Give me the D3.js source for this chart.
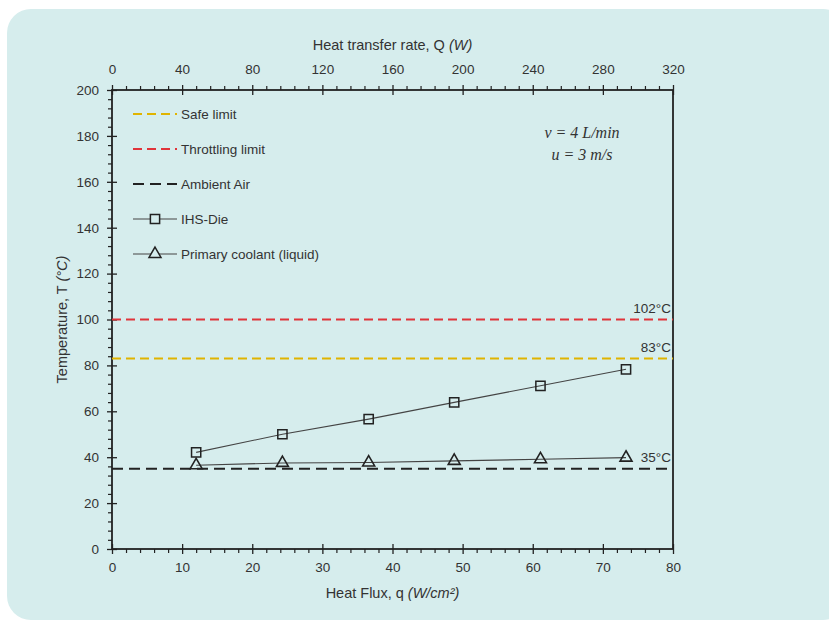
<!DOCTYPE html>
<html>
<head>
<meta charset="utf-8">
<script src="https://cdn.jsdelivr.net/npm/d3@7"></script>
<style>
  body { margin: 0; background: #fff; }
</style>
</head>
<body>
<div id="chart"></div>
<script>
// heat flux (W/cm2) for each test point
const flux = [12.0, 24.3, 36.6, 48.8, 61.1, 73.3];
const dieTemp = [42.1, 50.0, 56.6, 63.9, 71.1, 78.3];
const coolantTemp = [36.5, 37.5, 37.7, 38.4, 39.1, 39.8];

// horizontal limit lines
const limitNames = ["Safe limit", "Throttling limit", "Ambient Air"];
const limitValues = [83, 100, 35];
const limitLabels = ["83°C", "102°C", "35°C"];
const limitColors = ["#e0b400", "#e0343a", "#222222"];

const xTicks = [0, 10, 20, 30, 40, 50, 60, 70, 80];
const qTicks = [0, 40, 80, 120, 160, 200, 240, 280, 320];
const yTicks = [0, 20, 40, 60, 80, 100, 120, 140, 160, 180, 200];

const width = 829, height = 623,
  margin = ({top: 90, right: 156, bottom: 74, left: 112});

const sans = "Liberation Sans, Arial, sans-serif";

const svg = d3.select("#chart").append("svg")
  .attr("width", width).attr("height", height)
  .attr("font-family", sans);

// panel background
svg.append("rect")
  .attr("x", 7).attr("y", 9)
  .attr("width", 840).attr("height", 611)
  .attr("rx", 24)
  .attr("fill", "#d6eded");

const x = d3.scaleLinear().domain([0, 80]).range([margin.left, width - margin.right]);
const xq = d3.scaleLinear().domain([0, 320]).range([margin.left, width - margin.right]);
const y = d3.scaleLinear().domain([0, 200]).range([height - margin.bottom, margin.top]);

const x0 = margin.left, x1 = width - margin.right,
  y0 = height - margin.bottom, y1 = margin.top;

// minor ticks first (outward), then majors that cross the axis line
const minor = (axis, vals) => g => g.call(axis.tickValues(vals).tickFormat("").tickSize(4))
  .call(g => g.select(".domain").remove())
  .call(g => g.selectAll(".tick line").attr("stroke", "#222").attr("stroke-width", 1.2));

svg.append("g").attr("transform", `translate(0,${y0})`)
  .call(minor(d3.axisBottom(x), d3.range(0, 81, 2).filter(v => v % 10)));
svg.append("g").attr("transform", `translate(0,${y1})`)
  .call(minor(d3.axisTop(xq), d3.range(0, 321, 8).filter(v => v % 40)));
svg.append("g").attr("transform", `translate(${x0},0)`)
  .call(minor(d3.axisLeft(y), d3.range(0, 201, 4).filter(v => v % 20)));

const styleMajor = (g, attr) => {
  g.select(".domain").remove();
  g.selectAll(".tick line").attr("stroke", "#222").attr("stroke-width", 1.3)
    .attr(attr + "1", -5).attr(attr + "2", 5);
  g.selectAll(".tick text").attr("font-size", 13.5).attr("font-family", sans).attr("fill", "#333");
};

svg.append("g").attr("transform", `translate(0,${y0})`)
  .call(d3.axisBottom(x).tickValues(xTicks).tickSize(5).tickPadding(8))
  .call(g => styleMajor(g, "y"));
svg.append("g").attr("transform", `translate(0,${y1})`)
  .call(d3.axisTop(xq).tickValues(qTicks).tickSize(5).tickPadding(11))
  .call(g => styleMajor(g, "y"));
svg.append("g").attr("transform", `translate(${x0},0)`)
  .call(d3.axisLeft(y).tickValues(yTicks).tickSize(5).tickPadding(8))
  .call(g => styleMajor(g, "x"));

// frame
svg.append("rect")
  .attr("x", x0).attr("y", y1)
  .attr("width", x1 - x0).attr("height", y0 - y1)
  .attr("fill", "none").attr("stroke", "#222").attr("stroke-width", 1.8);

// limit lines
limitValues.forEach((v, i) => {
  svg.append("line")
    .attr("x1", x0).attr("x2", x1)
    .attr("y1", y(v)).attr("y2", y(v))
    .attr("stroke", limitColors[i]).attr("stroke-width", 2)
    .attr("stroke-dasharray", i == 2 ? "11,6" : "9,5");
  svg.append("text")
    .attr("x", x1 - 2).attr("y", y(v) - 7)
    .attr("text-anchor", "end").attr("font-size", 13.5).attr("fill", "#333")
    .text(limitLabels[i]);
});

// series
const line = d3.line().x((d, i) => x(flux[i])).y(d => y(d));

svg.append("path").datum(dieTemp)
  .attr("d", line).attr("fill", "none").attr("stroke", "#444").attr("stroke-width", 1.1);
svg.append("path").datum(coolantTemp)
  .attr("d", line).attr("fill", "none").attr("stroke", "#444").attr("stroke-width", 1.1);

const square = d3.symbol().type(d3.symbolSquare).size(85);
const triangle = d3.symbol().type(d3.symbolTriangle).size(62);

svg.selectAll(".sq").data(dieTemp).join("path")
  .attr("class", "sq")
  .attr("transform", (d, i) => `translate(${x(flux[i])},${y(d)})`)
  .attr("d", square).attr("fill", "none").attr("stroke", "#222").attr("stroke-width", 1.5);

svg.selectAll(".tri").data(coolantTemp).join("path")
  .attr("class", "tri")
  .attr("transform", (d, i) => `translate(${x(flux[i])},${y(d)})`)
  .attr("d", triangle).attr("fill", "none").attr("stroke", "#222").attr("stroke-width", 1.6);

// legend
const legendNames = limitNames.concat(["IHS-Die", "Primary coolant (liquid)"]);
const legend = svg.append("g");
legendNames.forEach((name, i) => {
  const ly = 114 + i * 35;
  const row = legend.append("g").attr("transform", `translate(133,${ly})`);
  if (i < 3) {
    row.append("line").attr("x1", 0).attr("x2", 44)
      .attr("stroke", limitColors[i]).attr("stroke-width", 2)
      .attr("stroke-dasharray", i == 2 ? "11,6" : "9,5");
  } else {
    row.append("line").attr("x1", 0).attr("x2", 44)
      .attr("stroke", "#444").attr("stroke-width", 1.1);
    row.append("path").attr("transform", "translate(22,0)")
      .attr("d", i == 3 ? square : triangle)
      .attr("fill", "#d6eded").attr("stroke", "#222").attr("stroke-width", 1.5);
  }
  row.append("text").attr("x", 48).attr("y", 5).attr("font-size", 13.5).attr("fill", "#333").text(name);
});

// flow conditions
const serif = "Liberation Serif, DejaVu Serif, serif";
const eq = svg.append("g").attr("font-family", serif).attr("font-size", 16)
  .attr("font-style", "italic").attr("fill", "#333").attr("text-anchor", "middle");
eq.append("text").attr("x", 582).attr("y", 138).text("v =  4 L/min");
eq.append("text").attr("x", 582).attr("y", 160).text("u = 3 m/s");

// axis titles
const bt = svg.append("text").attr("x", (x0 + x1) / 2).attr("y", 598)
  .attr("text-anchor", "middle").attr("font-size", 14.5).attr("fill", "#333");
bt.append("tspan").text("Heat Flux, q ");
bt.append("tspan").attr("font-style", "italic").text("(W/cm²)");

const tt = svg.append("text").attr("x", (x0 + x1) / 2).attr("y", 50)
  .attr("text-anchor", "middle").attr("font-size", 14.5).attr("fill", "#333");
tt.append("tspan").text("Heat transfer rate, Q ");
tt.append("tspan").attr("font-style", "italic").text("(W)");

const yt = svg.append("text")
  .attr("transform", `translate(67,${(y0 + y1) / 2}) rotate(-90)`)
  .attr("text-anchor", "middle").attr("font-size", 14.5).attr("fill", "#333");
yt.append("tspan").text("Temperature, T ");
yt.append("tspan").attr("font-style", "italic").text("(°C)");
</script>
</body>
</html>
